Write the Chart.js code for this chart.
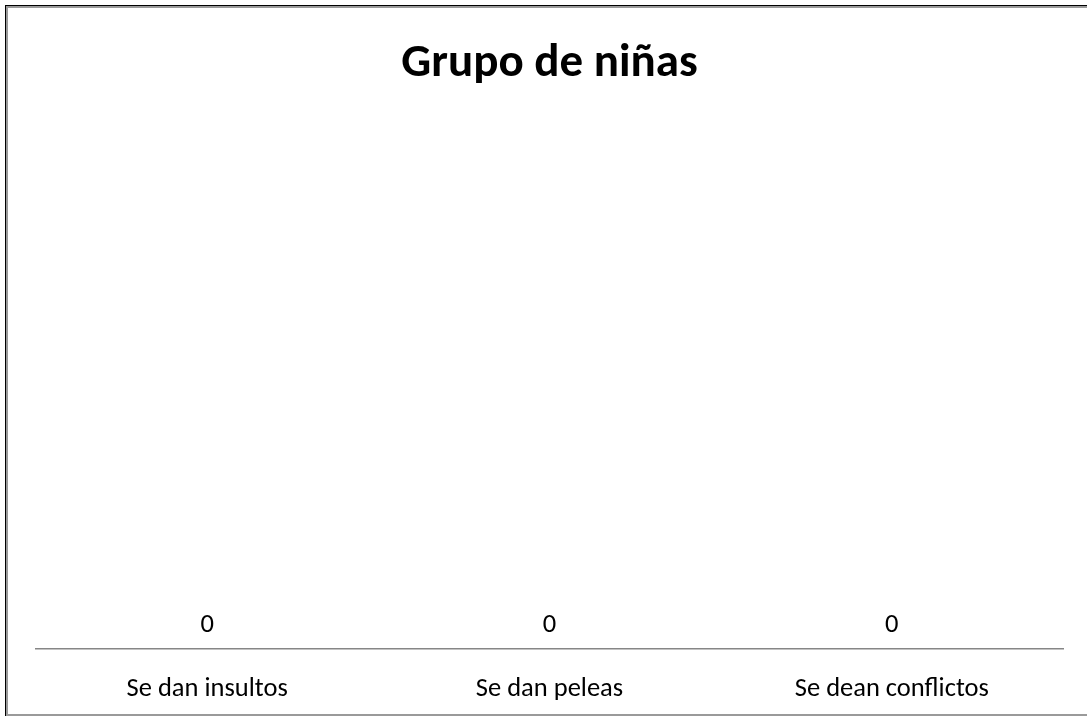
<!DOCTYPE html>
<html>
<head>
<meta charset="utf-8">
<script src="https://cdn.jsdelivr.net/npm/chart.js@4/dist/chart.umd.min.js"></script>
<style>
  html, body { margin: 0; padding: 0; background: #fff; }
  #clip { position: absolute; left: 0; top: 0; width: 1087px; height: 717px; overflow: hidden; }
  #frame1 { position: absolute; left: 5px; top: 5px; width: 1200px; height: 711px; border-top: 1px solid #000; border-left: 1px solid #000; box-sizing: border-box; }
  #frame2 { position: absolute; left: 6px; top: 6px; width: 1200px; height: 710px; border-top: 2px solid #9a9a9a; border-left: 2px solid #9a9a9a; border-bottom: 2px solid #9a9a9a; box-sizing: border-box; }
  #wrap { position: absolute; left: 0; top: 0; width: 1087px; height: 717px; }
</style>
</head>
<body>
<div id="clip">
  <div id="frame1"></div>
  <div id="frame2"></div>
  <div id="wrap"><canvas id="c" width="1087" height="717"></canvas></div>
</div>
<script>
const titleText = "Grupo de niñas";
const categories = ["Se dan insultos", "Se dan peleas", "Se dean conflictos"];
const values = [0, 0, 0];

const FONT = "Carlito, Calibri, Lato, sans-serif";

const valueLabels = {
  id: 'valueLabels',
  afterDatasetsDraw(chart) {
    const ctx = chart.ctx;
    ctx.save();
    ctx.font = "26.5px " + FONT;
    ctx.fillStyle = "#000";
    ctx.textAlign = "center";
    ctx.textBaseline = "middle";
    chart.getDatasetMeta(0).data.forEach((bar, i) => {
      ctx.fillText(String(values[i]), bar.x, bar.y - 24);
    });
    ctx.restore();
  }
};

new Chart(document.getElementById('c'), {
  type: 'bar',
  data: {
    labels: categories,
    datasets: [{ data: values, backgroundColor: '#4f81bd', borderWidth: 0 }]
  },
  options: {
    responsive: false,
    animation: false,
    layout: { padding: { left: 36, right: 24, top: 0, bottom: 0 } },
    plugins: {
      legend: { display: false },
      tooltip: { enabled: false },
      title: {
        display: true,
        text: titleText,
        color: '#000',
        font: { family: FONT, size: 47, weight: 'bold' },
        padding: { top: 36, bottom: 20 }
      }
    },
    scales: {
      x: {
        grid: { display: false, drawTicks: false },
        border: { display: true, color: '#868686', width: 1.5 },
        ticks: { color: '#000', font: { family: FONT, size: 26.5, lineHeight: 1 }, padding: 27 },
        afterFit(scale) { scale.height = 68; }
      },
      y: { display: false, min: 0, max: 1 }
    }
  },
  plugins: [valueLabels]
});
</script>
</body>
</html>
